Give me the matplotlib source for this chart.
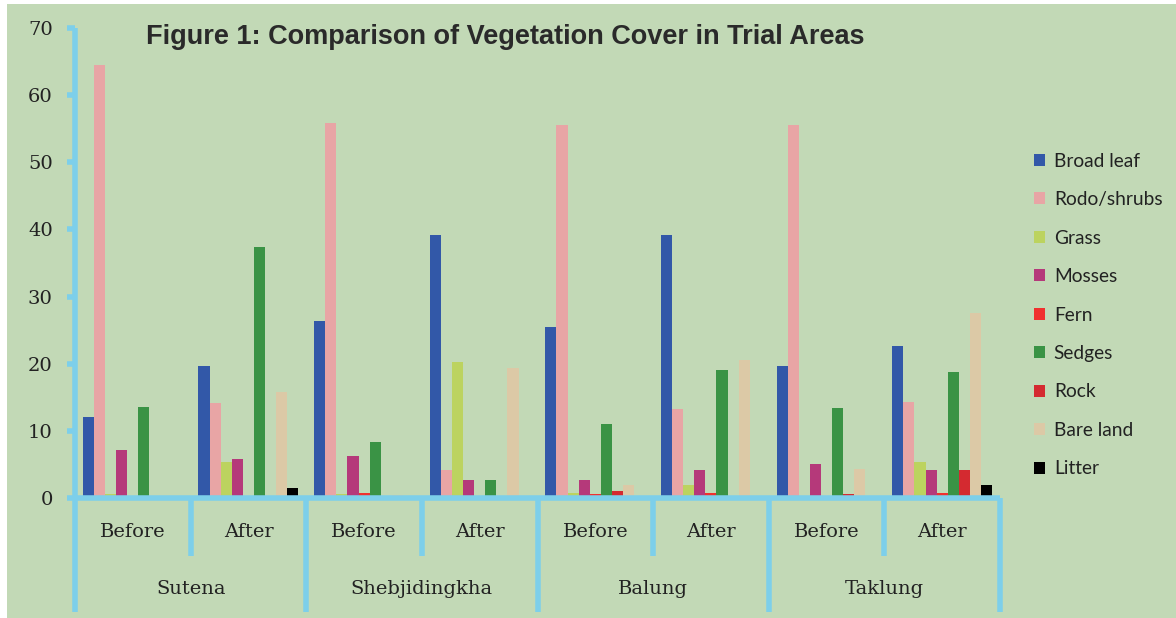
import matplotlib
matplotlib.use("Agg")
import matplotlib.pyplot as plt
from matplotlib.patches import Patch, Rectangle
import numpy as np

sites = ["Sutena", "Shebjidingkha", "Balung", "Taklung"]
periods = ["Before", "After"]
covers = ["Broad leaf", "Rodo/shrubs", "Grass", "Mosses", "Fern",
          "Sedges", "Rock", "Bare land", "Litter"]
colors = ["#3258A8", "#E8A5A5", "#BCD35F", "#B5397A", "#F0302E",
          "#3A9345", "#D42A30", "#DCC9A6", "#000000"]

# one list per cover type, 8 values: site x (Before, After)
broad_leaf = [12.0, 19.6, 26.3, 39.2, 25.4, 39.2, 19.7, 22.6]
rodo_shrubs = [64.5, 14.1, 55.8, 4.1, 55.5, 13.2, 55.5, 14.3]
grass = [0.6, 5.3, 0.6, 20.3, 0.7, 1.9, 0.0, 5.3]
mosses = [7.2, 5.8, 6.2, 2.7, 2.7, 4.1, 5.0, 4.1]
fern = [0.0, 0.0, 0.8, 0.3, 0.55, 0.8, 0.0, 0.8]
sedges = [13.6, 37.4, 8.4, 2.7, 11.0, 19.1, 13.4, 18.8]
rock = [0.3, 0.0, 0.0, 0.2, 1.0, 0.0, 0.55, 4.2]
bare_land = [0.3, 15.8, 0.4, 19.4, 1.9, 20.6, 4.3, 27.6]
litter = [0.0, 1.5, 0.3, 0.0, 0.3, 0.3, 0.0, 1.9]
series = [broad_leaf, rodo_shrubs, grass, mosses, fern, sedges, rock, bare_land, litter]

bg = "#C2D9B6"
axis_blue = "#7DCFEA"

fig = plt.figure(figsize=(11.76, 6.18), dpi=100)
fig.patch.set_facecolor("white")
fig.patches.append(Rectangle((0.006, 0), 0.994, 0.993, transform=fig.transFigure,
                             facecolor=bg, edgecolor="none", zorder=-10))

ax = fig.add_axes([75 / 1176, 120 / 618, 925 / 1176, 470 / 618])
ax.set_facecolor(bg)

n = len(series)
groups = np.arange(len(sites) * len(periods))
w = 0.865 / n
for i, (vals, col) in enumerate(zip(series, colors)):
    ax.bar(groups + (i - (n - 1) / 2) * w, vals, width=w, color=col,
           edgecolor="none", label=covers[i], zorder=3)

ax.set_xlim(-0.5, len(groups) - 0.5)
ax.set_ylim(0, 70)
ax.set_yticks(range(0, 71, 10))
ax.set_xticks([])
ax.tick_params(axis="y", direction="out", length=6, width=4, color=axis_blue,
               labelsize=14, pad=10)
for lab in ax.get_yticklabels():
    lab.set_fontfamily("DejaVu Serif")
    lab.set_color("#222222")

for s in ["top", "right", "left", "bottom"]:
    ax.spines[s].set_visible(False)

lw = 4
low = -114 / 470
mid = -58 / 470
tr = ax.get_xaxis_transform()
# y axis running down past the category rows
ax.plot([-0.5, -0.5], [1.0, low], color=axis_blue, lw=lw, transform=tr,
        clip_on=False, solid_capstyle="butt", zorder=5)
# x axis
ax.plot([-0.5, len(groups) - 0.5], [0, 0], color=axis_blue, lw=lw, transform=tr,
        clip_on=False, solid_capstyle="butt", zorder=5)
# separators between periods and sites
for k in range(1, len(groups) + 1):
    xpos = k - 0.5
    bottom = low if k % 2 == 0 else mid
    ax.plot([xpos, xpos], [0, bottom], color=axis_blue, lw=lw, transform=tr,
            clip_on=False, solid_capstyle="butt", zorder=5)

for g in groups:
    ax.text(g, -34 / 470, periods[g % 2], transform=tr, ha="center", va="center",
            fontsize=14, family="DejaVu Serif", color="#222222")
for s, name in enumerate(sites):
    ax.text(2 * s + 0.5, -91 / 470, name, transform=tr, ha="center", va="center",
            fontsize=14, family="DejaVu Serif", color="#222222")

fig.text(505 / 1176, 1 - 37 / 618, "Figure 1: Comparison of Vegetation Cover in Trial Areas",
         ha="center", va="center", fontsize=19.5, fontweight="bold",
         family="Liberation Sans", color="#2a2a2a")

handles = [Patch(facecolor=c, edgecolor="none") for c in colors]
leg = fig.legend(handles, covers, loc="upper left", bbox_to_anchor=(1026 / 1176, 1 - 145 / 618),
                 frameon=False, fontsize=13.8, handlelength=0.6, handleheight=0.6,
                 handletextpad=0.45, labelspacing=1.12, borderaxespad=0)
for t in leg.get_texts():
    t.set_fontfamily("Lato")
    t.set_color("#222222")

fig.savefig("out.png", dpi=100, facecolor=fig.get_facecolor())
